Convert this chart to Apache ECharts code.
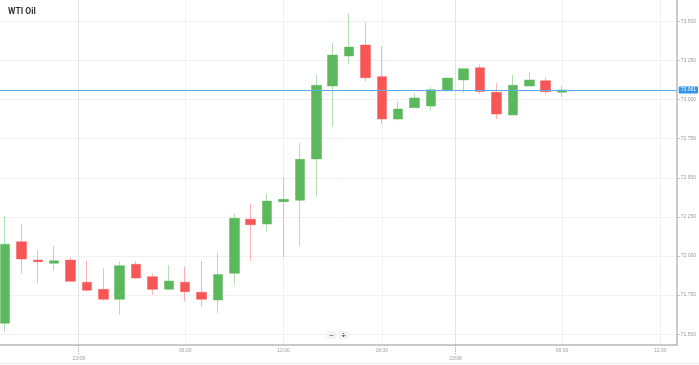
<!DOCTYPE html>
<html><head><meta charset="utf-8">
<script src="https://cdn.jsdelivr.net/npm/echarts@6/dist/echarts.min.js"></script>
<style>html,body{margin:0;padding:0;background:#fff}#c{width:699px;height:365px}</style>
</head><body><div id="c"></div>
<script>
const chartTitle = 'WTI Oil';
// hourly slots (23:00 is the daily market break, so it is absent)
const slots = [
  '21/08 18:00','21/08 19:00','21/08 20:00','21/08 21:00','21/08 22:00',
  '22/08 00:00','22/08 01:00','22/08 02:00','22/08 03:00','22/08 04:00','22/08 05:00',
  '22/08 06:00','22/08 07:00','22/08 08:00','22/08 09:00','22/08 10:00','22/08 11:00',
  '22/08 12:00','22/08 13:00','22/08 14:00','22/08 15:00','22/08 16:00','22/08 17:00',
  '22/08 18:00','22/08 19:00','22/08 20:00','22/08 21:00','22/08 22:00',
  '23/08 00:00','23/08 01:00','23/08 02:00','23/08 03:00','23/08 04:00','23/08 05:00',
  '23/08 06:00','23/08 07:00','23/08 08:00','23/08 09:00','23/08 10:00','23/08 11:00',
  '23/08 12:00'
];
const opens  = [71.570,72.091,71.974,71.953,71.974,71.832,71.787,71.723,71.947,71.868,71.787,71.832,71.768,71.719,71.889,72.235,72.204,72.347,72.356,72.620,73.086,73.278,73.348,73.146,72.875,72.948,72.958,73.056,73.125,73.203,73.046,72.901,73.086,73.120,73.046];
const closes = [72.075,71.981,71.964,71.970,71.838,71.781,71.723,71.938,71.859,71.787,71.840,71.772,71.723,71.881,72.241,72.200,72.351,72.362,72.618,73.091,73.284,73.335,73.139,72.875,72.939,73.010,73.063,73.137,73.197,73.051,72.907,73.091,73.125,73.050,73.061];
const lows   = [71.516,71.889,71.826,71.906,71.838,71.775,71.714,71.623,71.855,71.751,71.783,71.712,71.676,71.634,71.815,71.970,72.155,71.992,72.064,72.383,72.825,73.227,73.118,72.843,72.865,72.948,72.928,73.056,73.043,73.035,72.875,72.901,73.086,73.033,73.018];
const highs  = [72.256,72.204,72.034,72.064,71.992,71.968,71.921,71.964,71.968,71.885,71.942,71.932,71.968,72.021,72.273,72.332,72.396,72.503,72.724,73.157,73.361,73.551,73.492,73.342,72.990,73.040,73.078,73.137,73.201,73.224,73.104,73.157,73.176,73.139,73.088];
const yTicks = [71.5,71.75,72.0,72.25,72.5,72.75,73.0,73.25,73.5];
const hourTickLabels = ['06:00','12:00','18:00','06:00','12:00'];
const hourTickSlots  = ['22/08 06:00','22/08 12:00','22/08 18:00','23/08 06:00','23/08 12:00'];
const dayTickLabels  = ['22/08','23/08'];
const dayStartSlots  = ['22/08 00:00','23/08 00:00'];

const hourPos = hourTickSlots.map(s => slots.indexOf(s));
const dayPos = dayStartSlots.map(s => slots.indexOf(s) - 0.5);
const hourMap = {}; hourPos.forEach((p, i) => hourMap[p] = hourTickLabels[i]);
const dayMap = {}; dayPos.forEach((p, i) => dayMap[p] = dayTickLabels[i]);
const candleData = opens.map((o, i) => [i, o, closes[i], lows[i], highs[i]]);
const lastClose = closes[closes.length - 1];

const xMin = -0.305, xMax = 41.0;
const chart = echarts.init(document.getElementById('c'));
chart.setOption({
  animation: false,
  grid: {left: 0, right: 22, top: 0, bottom: 20},
  xAxis: [
    {type: 'value', min: xMin, max: xMax, position: 'bottom',
     axisLine: {show: true, onZero: false, lineStyle: {color: '#b8b8b8', width: 1.5}},
     axisTick: {show: false, customValues: hourPos},
     axisLabel: {customValues: hourPos, formatter: v => hourMap[v] || '', fontSize: 5, color: '#a0a0a0', margin: 3.5},
     splitLine: {show: true, lineStyle: {color: '#f1f1f1', width: 1}}},
    {type: 'value', min: xMin, max: xMax, position: 'bottom',
     axisLine: {show: false, onZero: false},
     axisTick: {show: true, customValues: dayPos, length: 9, lineStyle: {color: '#aaa', type: [1, 1]}},
     axisLabel: {customValues: dayPos, formatter: v => dayMap[v] || '', fontSize: 5, color: '#a0a0a0', margin: 11},
     splitLine: {show: true, lineStyle: {color: '#e3e3e3', width: 1}}}
  ],
  yAxis: {type: 'value', position: 'right', min: 71.4313, max: 73.6358,
    axisLine: {show: true, onZero: false, lineStyle: {color: '#b8b8b8', width: 1.5}},
    axisTick: {show: true, customValues: yTicks, length: 3, lineStyle: {color: '#bbb'}},
    axisLabel: {customValues: yTicks, formatter: v => v.toFixed(3), fontSize: 5, color: '#999', margin: 4},
    splitLine: {show: true, lineStyle: {color: '#f1f1f1'}}},
  series: [{
    type: 'candlestick', xAxisIndex: 0, yAxisIndex: 0,
    data: candleData, barWidth: 10,
    itemStyle: {color: '#5cb85c', color0: '#f75656',
      borderColor: 'rgba(92,184,92,0.45)', borderColor0: 'rgba(247,86,86,0.45)', borderWidth: 1},
    markLine: {silent: true, symbol: 'none',
      lineStyle: {color: '#5aaef0', width: 1, type: 'solid'},
      label: {show: true, position: 'end', distance: 2, formatter: () => lastClose.toFixed(3),
        backgroundColor: '#2f95ee', color: '#fff', fontSize: 5, padding: [1, 2], borderRadius: 1},
      data: [{yAxis: lastClose}]}
  }],
  graphic: [
    {type: 'text', left: 8, top: 7, style: {text: chartTitle, font: 'bold 8.5px Roboto', fill: '#333'}},
    {type: 'rect', shape: {x: 327, y: 331, width: 9, height: 8}, style: {fill: '#f3f3f3'}},
    {type: 'rect', shape: {x: 339, y: 331, width: 9, height: 8}, style: {fill: '#f3f3f3'}},
    {type: 'line', shape: {x1: 329.5, y1: 335, x2: 333.5, y2: 335}, style: {stroke: '#555', lineWidth: 1.2}},
    {type: 'line', shape: {x1: 341.5, y1: 335, x2: 345.5, y2: 335}, style: {stroke: '#555', lineWidth: 1.2}},
    {type: 'line', shape: {x1: 343.5, y1: 333, x2: 343.5, y2: 337}, style: {stroke: '#555', lineWidth: 1.2}},
    {type: 'line', shape: {x1: 0, y1: 363.5, x2: 699, y2: 363.5}, style: {stroke: '#ececec', lineWidth: 1}}
  ]
});
</script>
</body></html>
